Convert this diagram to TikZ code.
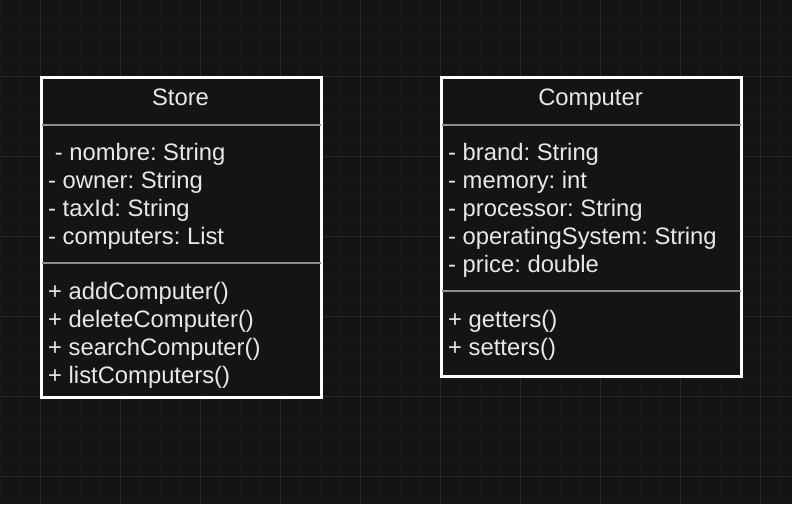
\documentclass[tikz,border=0pt]{standalone}
\usepackage{fontspec}
\setmainfont{Liberation Sans}
\frenchspacing
\definecolor{bgc}{HTML}{141414}
\definecolor{minorc}{HTML}{1A1A1A}
\definecolor{majorc}{HTML}{272727}
\definecolor{sepc}{HTML}{8C8C8C}
\definecolor{txtc}{HTML}{E8E8E8}
\tikzset{
  minorline/.style={draw=minorc, line width=1pt},
  majorline/.style={draw=majorc, line width=1pt},
  umlbox/.style={draw=white, fill=bgc, line width=2pt, rectangle, inner sep=0pt, anchor=north west},
  sepline/.style={draw=sepc, line width=2pt},
  txt/.style={text=txtc, font=\fontsize{23.8}{28}\selectfont, anchor=base west, inner sep=0pt},
  ttl/.style={text=txtc, font=\fontsize{23.8}{28}\selectfont, anchor=base, inner sep=0pt}
}
\begin{document}
\begin{tikzpicture}[x=1pt,y=-1pt]
\useasboundingbox (0,0) rectangle (792,504);
\fill[bgc] (0,0) rectangle (792,504);
\foreach \x in {0,20,...,780} \draw[minorline] (\x,0) -- (\x,504);
\foreach \y in {16,36,...,496} \draw[minorline] (0,\y) -- (792,\y);
\foreach \x in {40,120,...,760} \draw[majorline] (\x,0) -- (\x,504);
\foreach \y in {76,156,...,476} \draw[majorline] (0,\y) -- (792,\y);

% Store
\node[umlbox, minimum width=279pt, minimum height=319pt] (store) at (41,77) {};
\draw[sepline] ([yshift=-48pt]store.north west) -- ([yshift=-48pt]store.north east);
\draw[sepline] ([yshift=-186pt]store.north west) -- ([yshift=-186pt]store.north east);
\draw[draw=white, line width=2pt] (store.north west) rectangle (store.south east);
\node[ttl] (storeT) at (180.5,105.5) {Store};
\foreach \t [count=\i] in {{\ - nombre: String},{- owner: String},{- taxId: String},{- computers: List}}
  \node[txt] (storeA\i) at (48,132.5+28*\i) {\t};
\foreach \t [count=\i] in {{+ addComputer()},{+ deleteComputer()},{+ searchComputer()},{+ listComputers()}}
  \node[txt] (storeM\i) at (48,271.5+28*\i) {\t};

% Computer
\node[umlbox, minimum width=299pt, minimum height=298pt] (comp) at (441,77) {};
\draw[sepline] ([yshift=-48pt]comp.north west) -- ([yshift=-48pt]comp.north east);
\draw[sepline] ([yshift=-214pt]comp.north west) -- ([yshift=-214pt]comp.north east);
\draw[draw=white, line width=2pt] (comp.north west) rectangle (comp.south east);
\node[ttl] (compT) at (590.5,105.5) {Computer};
\foreach \t [count=\i] in {{- brand: String},{- memory: int},{- processor: String},{- operatingSystem: String},{- price: double}}
  \node[txt] (compA\i) at (448,132.5+28*\i) {\t};
\foreach \t [count=\i] in {{+ getters()},{+ setters()}}
  \node[txt] (compM\i) at (448,299.5+28*\i) {\t};
\end{tikzpicture}
\end{document}
